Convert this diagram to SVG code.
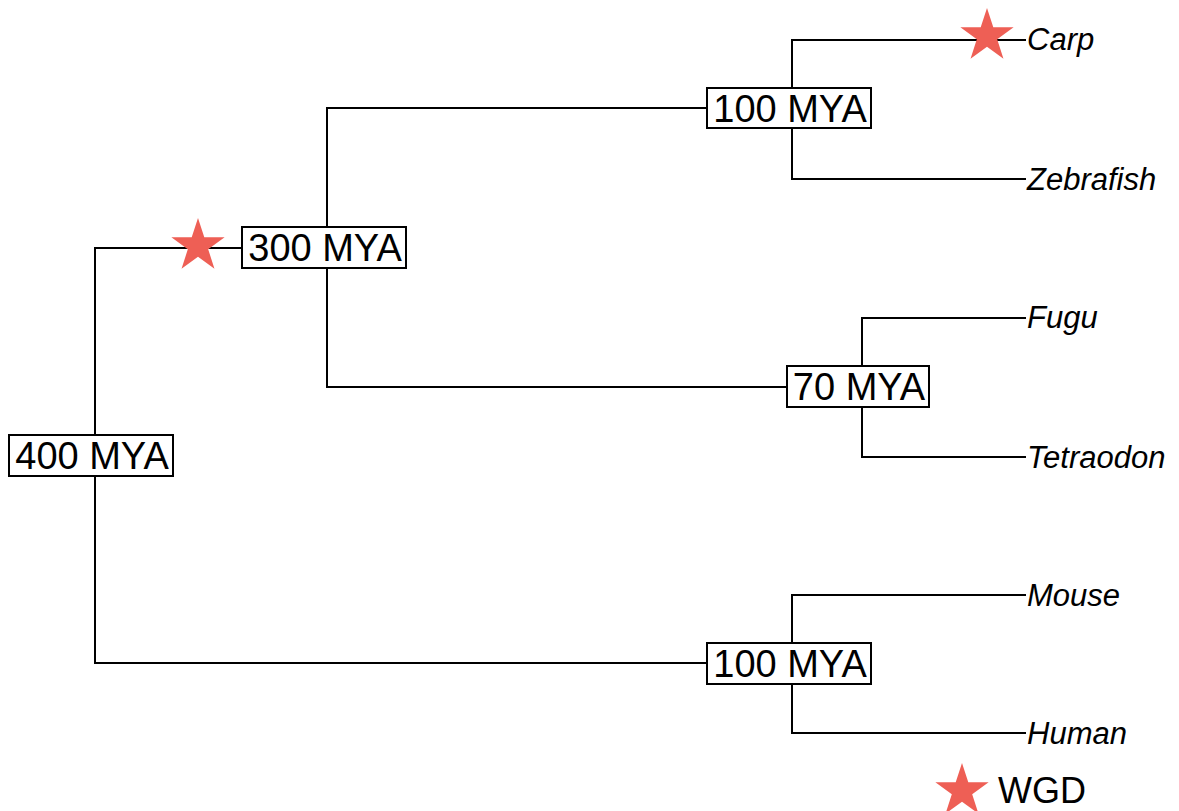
<svg xmlns="http://www.w3.org/2000/svg" width="1179" height="811" viewBox="0 0 1179 811">
<style>
.br{fill:none;stroke:#000;stroke-width:2;stroke-linecap:square}
.box{fill:#fff;stroke:#000;stroke-width:2}
.lbl{font-family:"Liberation Sans",Arial,sans-serif;font-size:38px;fill:#000;text-anchor:middle}
.sp{font-family:"Liberation Sans",Arial,sans-serif;font-size:31px;font-style:italic;fill:#000}
.star{fill:#ee5f55}
</style>
<defs>
<path id="st" d="M0,-28 L6.29,-8.66 L26.63,-8.65 L10.18,3.31 L16.46,22.65 L0,10.7 L-16.46,22.65 L-10.18,3.31 L-26.63,-8.65 L-6.29,-8.66 Z"/>
</defs>
<rect width="1179" height="811" fill="#fff"/>
<g id="connectors">
<path class="br" d="M95,456 V248 H242"/>
<path class="br" d="M95,456 V663 H707"/>
<path class="br" d="M327,247 V108 H707"/>
<path class="br" d="M327,247 V387 H787"/>
<path class="br" d="M792,108 V40 H1025"/>
<path class="br" d="M792,108 V179 H1025"/>
<path class="br" d="M862,387 V318 H1025"/>
<path class="br" d="M862,387 V457 H1025"/>
<path class="br" d="M792,663 V595 H1025"/>
<path class="br" d="M792,663 V733 H1025"/>
</g>
<g id="wgd-stars">
<use href="#st" class="star" transform="translate(987,36)"/>
<use href="#st" class="star" transform="translate(198,246)"/>
</g>
<g id="n400"><rect class="box" x="9" y="435" width="164" height="41"/><text class="lbl" x="92" y="469">400 MYA</text></g>
<g id="n300"><rect class="box" x="242" y="227" width="164" height="41"/><text class="lbl" x="325" y="261">300 MYA</text></g>
<g id="n100a"><rect class="box" x="707" y="88" width="164" height="40"/><text class="lbl" x="790" y="122">100 MYA</text></g>
<g id="n70"><rect class="box" x="787" y="366" width="142" height="41"/><text class="lbl" x="859" y="400">70 MYA</text></g>
<g id="n100b"><rect class="box" x="707" y="643" width="164" height="41"/><text class="lbl" x="790" y="677">100 MYA</text></g>
<g id="carp"><text class="sp" x="1027" y="50">Carp</text></g>
<g id="zebrafish"><text class="sp" x="1027" y="190">Zebrafish</text></g>
<g id="fugu"><text class="sp" x="1027" y="328">Fugu</text></g>
<g id="tetraodon"><text class="sp" x="1027" y="468">Tetraodon</text></g>
<g id="mouse"><text class="sp" x="1027" y="606">Mouse</text></g>
<g id="human"><text class="sp" x="1027" y="744">Human</text></g>
<g id="legend">
<use href="#st" class="star" transform="translate(962,791)"/>
<text x="998" y="803" font-family="'Liberation Sans',Arial,sans-serif" font-size="36" fill="#000">WGD</text>
</g>
</svg>
